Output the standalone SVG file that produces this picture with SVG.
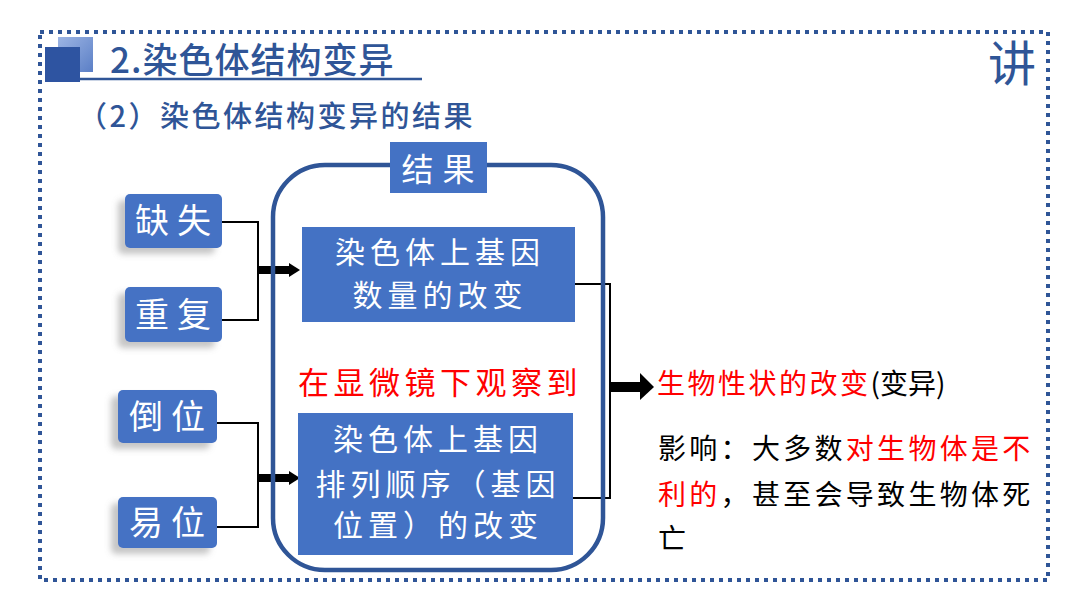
<svg xmlns="http://www.w3.org/2000/svg" width="1080" height="608" viewBox="0 0 1080 608">
<defs>
<style>
.cjk{font-family:"Noto Sans CJK SC","Noto Sans",sans-serif;}
.blue{fill:#2F5597;}
.wt{fill:#ffffff;}
.red{fill:#FF0000;}
.blk{fill:#000000;}
.box{fill:#4472C4;}
.thin{stroke:#000;stroke-width:2;fill:none;}
.thick{stroke:#000;stroke-width:8;fill:none;}
</style>
<filter id="sh" x="-30%" y="-30%" width="160%" height="170%">
<feDropShadow dx="-7" dy="6" stdDeviation="3" flood-color="#808080" flood-opacity="0.45"/>
</filter>
<linearGradient id="lg" x1="0" y1="0" x2="1" y2="1">
<stop offset="0" stop-color="#9DB5E4"/>
<stop offset="1" stop-color="#5B7FC6"/>
</linearGradient>
</defs>
<rect width="1080" height="608" fill="#ffffff"/>
<rect x="40" y="32" width="1008" height="548" fill="none" stroke="#2F5597" stroke-width="4" stroke-dasharray="4 5"/>

<g id="title">
<rect x="58" y="37" width="35" height="35" fill="url(#lg)"/>
<rect x="45" y="47" width="35" height="35" fill="#2E54A1"/>
<line x1="80" y1="79" x2="422" y2="79" stroke="#2F5597" stroke-width="2.5"/>
<text x="110" y="73" class="cjk blue" font-size="35" font-weight="500" letter-spacing="1">2.染色体结构变异</text>
</g>
<text id="subtitle" x="78" y="127" class="cjk blue" font-size="29" font-weight="500" letter-spacing="2.5">（2）染色体结构变异的结果</text>
<text id="jiang" x="988" y="81" class="cjk blue" font-size="48">讲</text>

<g id="connectors">
<polyline class="thin" points="222,222 258,222 258,320 222,320"/>
<line class="thick" x1="258" y1="270" x2="291" y2="270"/>
<polygon points="289,263 300,270 289,277"/>
<polyline class="thin" points="217,423 258,423 258,527 217,527"/>
<line class="thick" x1="258" y1="478" x2="291" y2="478"/>
<polygon points="289,471 300,478 289,485"/>
<polyline class="thin" points="575,284 610,284 610,498 573,498"/>
<line x1="610" y1="387" x2="642" y2="387" stroke="#000" stroke-width="10"/>
<polygon points="640,373 654,387 640,400"/>
</g>

<g id="que-shi">
<rect x="125" y="194" width="97" height="54" rx="5" class="box" filter="url(#sh)"/>
<text x="177" y="233" class="cjk wt" font-size="34" text-anchor="middle" letter-spacing="8">缺失</text>
</g>
<g id="chong-fu">
<rect x="125" y="287" width="97" height="55" rx="5" class="box" filter="url(#sh)"/>
<text x="177" y="327" class="cjk wt" font-size="34" text-anchor="middle" letter-spacing="8">重复</text>
</g>
<g id="dao-wei">
<rect x="118" y="390" width="99" height="53" rx="5" class="box" filter="url(#sh)"/>
<text x="171" y="429" class="cjk wt" font-size="34" text-anchor="middle" letter-spacing="8">倒位</text>
</g>
<g id="yi-wei">
<rect x="118" y="497" width="99" height="51" rx="5" class="box" filter="url(#sh)"/>
<text x="171" y="535" class="cjk wt" font-size="34" text-anchor="middle" letter-spacing="8">易位</text>
</g>

<g id="result-container">
<rect x="273" y="165" width="330" height="405" rx="52" fill="none" stroke="#2F5597" stroke-width="4.5"/>
<rect x="390" y="142" width="97" height="51" class="box"/>
<text x="442.5" y="181" class="cjk wt" font-size="32" text-anchor="middle" letter-spacing="9">结果</text>
<text x="440" y="394" class="cjk red" font-size="31" text-anchor="middle" letter-spacing="4.5">在显微镜下观察到</text>
</g>

<g id="count-change">
<rect x="302" y="227" width="273" height="95" class="box"/>
<text x="440" y="263" class="cjk wt" font-size="30" text-anchor="middle" letter-spacing="5">染色体上基因</text>
<text x="440" y="306" class="cjk wt" font-size="30" text-anchor="middle" letter-spacing="5">数量的改变</text>
</g>

<g id="order-change">
<rect x="298" y="413" width="275" height="142" class="box"/>
<text x="438" y="450" class="cjk wt" font-size="30" text-anchor="middle" letter-spacing="5">染色体上基因</text>
<text x="438" y="495" class="cjk wt" font-size="30" text-anchor="middle" letter-spacing="5">排列顺序（基因</text>
<text x="438" y="536" class="cjk wt" font-size="30" text-anchor="middle" letter-spacing="5">位置）的改变</text>
</g>

<g id="outcome">
<text x="657" y="394" class="cjk" font-size="28" letter-spacing="2.5"><tspan class="red">生物性状的改变</tspan><tspan class="blk" letter-spacing="0">(变异)</tspan></text>
<text x="658" y="459" class="cjk blk" font-size="28" letter-spacing="3.3">影响：大多数<tspan class="red">对生物体是不</tspan></text>
<text x="658" y="505" class="cjk blk" font-size="28" letter-spacing="3.3"><tspan class="red">利的</tspan>，甚至会导致生物体死</text>
<text x="658" y="549" class="cjk blk" font-size="28">亡</text>
</g>
</svg>
